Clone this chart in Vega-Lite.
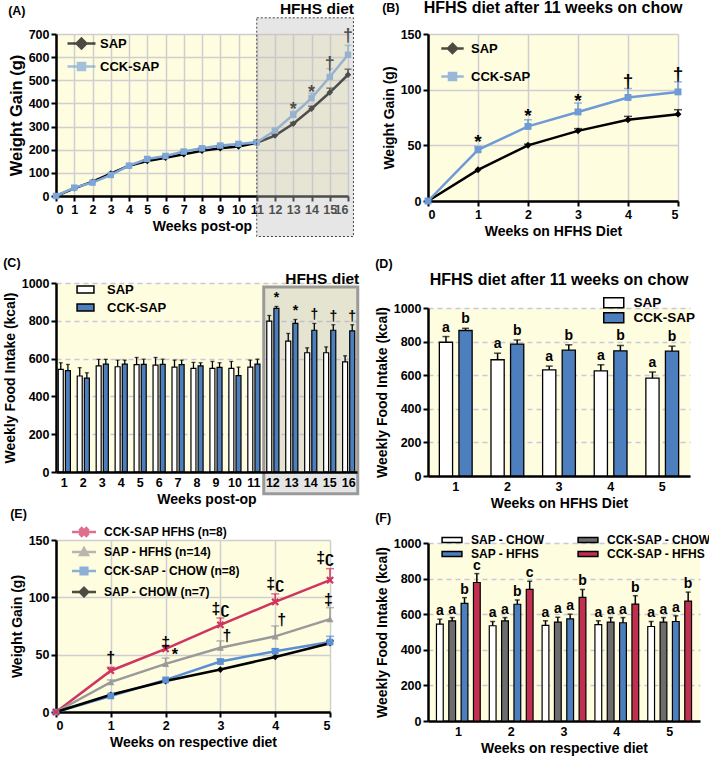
{
"$schema":"https://vega.github.io/schema/vega-lite/v6.json",
"padding":{"left":3,"top":0,"right":0,"bottom":0},
"background":"white",
"config":{
 "font":"Liberation Sans",
 "view":{"stroke":null,"fill":"#fffde0"},
 "axis":{"labelFont":"Liberation Sans","labelFontSize":12.5,"labelFontWeight":"bold","labelColor":"#000","titleFont":"Liberation Sans","titleFontSize":14,"titleFontWeight":"bold","titleColor":"#000","domainColor":"#000","domainWidth":2.5,"tickColor":"#000","tickWidth":2,"tickSize":5,"gridColor":"#cfcfcf","gridWidth":1.5,"labelPadding":2,"titlePadding":4,"labelOverlap":false},
 "axisX":{"labelAngle":0},
 "legend":{"labelFont":"Liberation Sans","labelFontWeight":"bold","labelColor":"#000","orient":"none"},
 "title":{"font":"Liberation Sans","fontWeight":"bold","color":"#000"},
 "text":{"font":"Liberation Sans","fontWeight":"bold"}
},
"datasets":{
 "a":[
  {"week":0,"group":"SAP","value":0},{"week":1,"group":"SAP","value":33},{"week":2,"group":"SAP","value":62},{"week":3,"group":"SAP","value":97},{"week":4,"group":"SAP","value":131},
  {"week":5,"group":"SAP","value":151,"err":157},{"week":6,"group":"SAP","value":165,"err":172},{"week":7,"group":"SAP","value":180,"err":188},{"week":8,"group":"SAP","value":195,"err":205},{"week":9,"group":"SAP","value":206,"err":215},{"week":10,"group":"SAP","value":214,"err":222},{"week":11,"group":"SAP","value":230,"err":236},{"week":12,"group":"SAP","value":261,"err":267},{"week":13,"group":"SAP","value":312,"err":318},{"week":14,"group":"SAP","value":377,"err":388},{"week":15,"group":"SAP","value":447,"err":466},{"week":16,"group":"SAP","value":524,"err":548},
  {"week":0,"group":"CCK-SAP","value":0},{"week":1,"group":"CCK-SAP","value":36},{"week":2,"group":"CCK-SAP","value":58},{"week":3,"group":"CCK-SAP","value":91},{"week":4,"group":"CCK-SAP","value":131},
  {"week":5,"group":"CCK-SAP","value":160,"err":166},{"week":6,"group":"CCK-SAP","value":173,"err":180},{"week":7,"group":"CCK-SAP","value":192,"err":199},{"week":8,"group":"CCK-SAP","value":206,"err":214},{"week":9,"group":"CCK-SAP","value":218,"err":226},{"week":10,"group":"CCK-SAP","value":225,"err":233},{"week":11,"group":"CCK-SAP","value":232,"err":238},{"week":12,"group":"CCK-SAP","value":283,"err":290},{"week":13,"group":"CCK-SAP","value":351,"err":365},{"week":14,"group":"CCK-SAP","value":423,"err":444},{"week":15,"group":"CCK-SAP","value":514,"err":550},{"week":16,"group":"CCK-SAP","value":610,"err":651}
 ],
 "sigA":[{"x":13,"y":372,"label":"*"},{"x":14,"y":447,"label":"*"},{"x":15,"y":572,"label":"†"},{"x":16,"y":690,"label":"†"}],
 "boxA":[{"x1":11,"x2":16.3,"y1":-175,"y2":770}],
 "b":[
  {"week":0,"group":"SAP","value":0},{"week":1,"group":"SAP","value":28},{"week":2,"group":"SAP","value":50,"err":51},{"week":3,"group":"SAP","value":63,"err":65},{"week":4,"group":"SAP","value":73,"err":76},{"week":5,"group":"SAP","value":78,"err":82},
  {"week":0,"group":"CCK-SAP","value":0},{"week":1,"group":"CCK-SAP","value":46,"err":49},{"week":2,"group":"CCK-SAP","value":67,"err":73},{"week":3,"group":"CCK-SAP","value":80,"err":88},{"week":4,"group":"CCK-SAP","value":93,"err":101},{"week":5,"group":"CCK-SAP","value":98,"err":107}
 ],
 "sigB":[{"x":1,"y":53,"label":"*"},{"x":2,"y":76,"label":"*"},{"x":3,"y":90,"label":"*"},{"x":4,"y":108,"label":"†"},{"x":5,"y":114,"label":"†"}],
 "c":[
  {"week":1,"group":"SAP","value":543,"err":578},{"week":2,"group":"SAP","value":508,"err":552},{"week":3,"group":"SAP","value":561,"err":596},{"week":4,"group":"SAP","value":557,"err":592},{"week":5,"group":"SAP","value":568,"err":606},{"week":6,"group":"SAP","value":566,"err":606},{"week":7,"group":"SAP","value":555,"err":592},{"week":8,"group":"SAP","value":548,"err":580},{"week":9,"group":"SAP","value":548,"err":585},{"week":10,"group":"SAP","value":548,"err":585},{"week":11,"group":"SAP","value":555,"err":592},{"week":12,"group":"SAP","value":798,"err":828},{"week":13,"group":"SAP","value":692,"err":733},{"week":14,"group":"SAP","value":631,"err":657},{"week":15,"group":"SAP","value":631,"err":662},{"week":16,"group":"SAP","value":583,"err":615},
  {"week":1,"group":"CCK-SAP","value":536,"err":569},{"week":2,"group":"CCK-SAP","value":497,"err":525},{"week":3,"group":"CCK-SAP","value":571,"err":596},{"week":4,"group":"CCK-SAP","value":571,"err":592},{"week":5,"group":"CCK-SAP","value":569,"err":597},{"week":6,"group":"CCK-SAP","value":569,"err":597},{"week":7,"group":"CCK-SAP","value":568,"err":592},{"week":8,"group":"CCK-SAP","value":561,"err":578},{"week":9,"group":"CCK-SAP","value":554,"err":578},{"week":10,"group":"CCK-SAP","value":510,"err":555},{"week":11,"group":"CCK-SAP","value":571,"err":597},{"week":12,"group":"CCK-SAP","value":866,"err":876,"sig":"*"},{"week":13,"group":"CCK-SAP","value":786,"err":807,"sig":"*"},{"week":14,"group":"CCK-SAP","value":750,"err":786,"sig":"†"},{"week":15,"group":"CCK-SAP","value":750,"err":779,"sig":"†"},{"week":16,"group":"CCK-SAP","value":747,"err":779,"sig":"†"}
 ],
 "boxC":[{"w1":12,"w2":16,"y1":-115,"y2":979}],
 "d":[
  {"week":1,"group":"SAP","value":796,"err":830,"letter":"a"},{"week":2,"group":"SAP","value":692,"err":731,"letter":"a"},{"week":3,"group":"SAP","value":632,"err":654,"letter":"a"},{"week":4,"group":"SAP","value":626,"err":662,"letter":"a"},{"week":5,"group":"SAP","value":583,"err":619,"letter":"a"},
  {"week":1,"group":"CCK-SAP","value":866,"err":879,"letter":"b"},{"week":2,"group":"CCK-SAP","value":785,"err":810,"letter":"b"},{"week":3,"group":"CCK-SAP","value":749,"err":781,"letter":"b"},{"week":4,"group":"CCK-SAP","value":745,"err":777,"letter":"b"},{"week":5,"group":"CCK-SAP","value":743,"err":773,"letter":"b"}
 ],
 "e":[
  {"week":0,"group":"CCK-SAP HFHS (n=8)","value":0},{"week":1,"group":"CCK-SAP HFHS (n=8)","value":36,"err":39},{"week":2,"group":"CCK-SAP HFHS (n=8)","value":55,"err":58},{"week":3,"group":"CCK-SAP HFHS (n=8)","value":76,"err":82},{"week":4,"group":"CCK-SAP HFHS (n=8)","value":96,"err":103},{"week":5,"group":"CCK-SAP HFHS (n=8)","value":115,"err":125},
  {"week":0,"group":"SAP - HFHS (n=14)","value":0},{"week":1,"group":"SAP - HFHS (n=14)","value":26,"err":28},{"week":2,"group":"SAP - HFHS (n=14)","value":42,"err":47},{"week":3,"group":"SAP - HFHS (n=14)","value":56,"err":62},{"week":4,"group":"SAP - HFHS (n=14)","value":66,"err":75},{"week":5,"group":"SAP - HFHS (n=14)","value":81,"err":91},
  {"week":0,"group":"CCK-SAP - CHOW (n=8)","value":0},{"week":1,"group":"CCK-SAP - CHOW (n=8)","value":14},{"week":2,"group":"CCK-SAP - CHOW (n=8)","value":28},{"week":3,"group":"CCK-SAP - CHOW (n=8)","value":44,"err":46},{"week":4,"group":"CCK-SAP - CHOW (n=8)","value":53,"err":55},{"week":5,"group":"CCK-SAP - CHOW (n=8)","value":61,"err":66},
  {"week":0,"group":"SAP - CHOW (n=7)","value":0},{"week":1,"group":"SAP - CHOW (n=7)","value":15},{"week":2,"group":"SAP - CHOW (n=7)","value":27},{"week":3,"group":"SAP - CHOW (n=7)","value":37},{"week":4,"group":"SAP - CHOW (n=7)","value":48},{"week":5,"group":"SAP - CHOW (n=7)","value":60,"err":62}
 ],
 "sigE":[{"x":1,"y":47,"label":"†"},{"x":2,"y":60,"label":"‡"},{"x":2.17,"y":50,"label":"*"},{"x":3,"y":90,"label":"‡ʗ"},{"x":3.12,"y":66,"label":"†"},{"x":4,"y":112,"label":"‡ʗ"},{"x":4.12,"y":80,"label":"†"},{"x":4.91,"y":134,"label":"‡ʗ"},{"x":4.97,"y":98,"label":"‡"}],
 "f":[
  {"week":1,"group":"SAP - CHOW","value":544,"err":572,"letter":"a"},{"week":2,"group":"SAP - CHOW","value":535,"err":559,"letter":"a"},{"week":3,"group":"SAP - CHOW","value":537,"err":563,"letter":"a"},{"week":4,"group":"SAP - CHOW","value":541,"err":563,"letter":"a"},{"week":5,"group":"SAP - CHOW","value":531,"err":559,"letter":"a"},
  {"week":1,"group":"CCK-SAP - CHOW","value":563,"err":581,"letter":"a"},{"week":2,"group":"CCK-SAP - CHOW","value":563,"err":581,"letter":"a"},{"week":3,"group":"CCK-SAP - CHOW","value":556,"err":583,"letter":"a"},{"week":4,"group":"CCK-SAP - CHOW","value":556,"err":581,"letter":"a"},{"week":5,"group":"CCK-SAP - CHOW","value":556,"err":581,"letter":"a"},
  {"week":1,"group":"SAP - HFHS","value":661,"err":693,"letter":"b"},{"week":2,"group":"SAP - HFHS","value":656,"err":680,"letter":"b"},{"week":3,"group":"SAP - HFHS","value":574,"err":600,"letter":"a"},{"week":4,"group":"SAP - HFHS","value":552,"err":581,"letter":"a"},{"week":5,"group":"SAP - HFHS","value":559,"err":591,"letter":"a"},
  {"week":1,"group":"CCK-SAP - HFHS","value":778,"err":828,"letter":"c"},{"week":2,"group":"CCK-SAP - HFHS","value":739,"err":785,"letter":"c"},{"week":3,"group":"CCK-SAP - HFHS","value":694,"err":739,"letter":"b"},{"week":4,"group":"CCK-SAP - HFHS","value":657,"err":704,"letter":"b"},{"week":5,"group":"CCK-SAP - HFHS","value":674,"err":724,"letter":"b"}
 ]
},
"align":"none",
"spacing":15,
"resolve":{"scale":{"color":"independent","shape":"independent","xOffset":"independent"},"legend":{"color":"independent","shape":"independent"}},
"hconcat":[
 {"align":"none","spacing":0,
  "resolve":{"scale":{"color":"independent","shape":"independent","xOffset":"independent"},"legend":{"color":"independent","shape":"independent"}},
  "vconcat":[
  {"align":"none","spacing":20,
   "resolve":{"scale":{"color":"independent","shape":"independent","xOffset":"independent"},"legend":{"color":"independent","shape":"independent"}},
   "vconcat":[
   {"title":{"text":"(A)","anchor":"start","fontSize":12.5,"dy":18,"offset":2},
    "resolve":{"scale":{"color":"independent","shape":"independent"},"legend":{"color":"independent","shape":"independent"}},
    "vconcat":[{
     "width":292,"height":162,
     "title":{"text":"HFHS diet","anchor":"end","fontSize":15.5,"offset":0},
     "layer":[
      {"data":{"name":"a"},"mark":{"type":"line","strokeWidth":2.5},
       "encoding":{
        "x":{"field":"week","type":"quantitative","scale":{"domain":[0,16],"nice":false},"axis":{"values":[0,1,2,3,4,5,6,7,8,9,10,11,12,13,14,15,16],"format":"d","tickCount":30,"labelOverlap":false,"title":"Weeks post-op","grid":true}},
        "y":{"field":"value","type":"quantitative","scale":{"domain":[0,700],"nice":false},"axis":{"values":[0,100,200,300,400,500,600,700],"format":"d","tickCount":30,"labelOverlap":false,"title":"Weight Gain (g)","titleFontSize":16.5,"grid":true}},
        "color":{"field":"group","type":"nominal","scale":{"domain":["SAP","CCK-SAP"],"range":["#000000","#7da7d9"]}}}},
      {"data":{"name":"a"},"transform":[{"filter":"isValid(datum.err)"}],"mark":{"type":"rule","strokeWidth":1.5},
       "encoding":{"x":{"field":"week","type":"quantitative"},"y":{"field":"value","type":"quantitative"},"y2":{"field":"err"},"color":{"field":"group","type":"nominal"}}},
      {"data":{"name":"a"},"transform":[{"filter":"isValid(datum.err)"}],"mark":{"type":"tick","orient":"horizontal","size":7,"thickness":1.5},
       "encoding":{"x":{"field":"week","type":"quantitative"},"y":{"field":"err","type":"quantitative"},"color":{"field":"group","type":"nominal"}}},
      {"data":{"name":"a"},"transform":[{"filter":"datum.group === 'SAP'"}],"mark":{"type":"point","filled":true,"opacity":1,"size":42,"shape":"diamond"},
       "encoding":{"x":{"field":"week","type":"quantitative"},"y":{"field":"value","type":"quantitative"},"color":{"field":"group","type":"nominal"}}},
      {"data":{"name":"a"},"transform":[{"filter":"datum.group === 'CCK-SAP'"}],"mark":{"type":"point","filled":true,"opacity":1,"size":42,"shape":"square"},
       "encoding":{"x":{"field":"week","type":"quantitative"},"y":{"field":"value","type":"quantitative"},"color":{"field":"group","type":"nominal"}}},
      {"data":{"name":"a"},"transform":[{"filter":"false"}],"mark":{"type":"point","filled":true,"opacity":1},
       "encoding":{"x":{"field":"week","type":"quantitative"},"y":{"field":"value","type":"quantitative"},"color":{"field":"group","type":"nominal"},
        "shape":{"field":"group","type":"nominal","scale":{"domain":["SAP","CCK-SAP"],"range":["M-4,0H4M0,-1.4L1.4,0L0,1.4L-1.4,0Z","M-4,0H4M-1,-1H1V1H-1Z"]},
         "legend":{"title":null,"orient":"none","legendX":19,"legendY":3,"symbolSize":49,"symbolStrokeWidth":2.5,"symbolOpacity":1,"labelOffset":12,"labelFontSize":13,"rowPadding":4}}}},
      {"data":{"name":"sigA"},"mark":{"type":"text","fontSize":18,"baseline":"middle","color":"#000"},
       "encoding":{"x":{"field":"x","type":"quantitative"},"y":{"field":"y","type":"quantitative"},"text":{"field":"label"}}},
      {"data":{"name":"boxA"},"mark":{"type":"rect","fill":"#c0c0c0","fillOpacity":0.4,"stroke":"#444444","strokeDash":[2,2],"strokeWidth":1},
       "encoding":{"x":{"field":"x1","type":"quantitative"},"x2":{"field":"x2"},"y":{"field":"y1","type":"quantitative"},"y2":{"field":"y2"}}}
     ]}]},
   {"title":{"text":"(C)","anchor":"start","fontSize":12.5,"offset":2},
    "resolve":{"scale":{"color":"independent","xOffset":"independent"},"legend":{"color":"independent"}},
    "vconcat":[{
     "width":301,"height":189,
     "title":{"text":"HFHS diet","anchor":"end","fontSize":15.5,"offset":-10},
     "layer":[
      {"data":{"name":"boxC"},"mark":{"type":"rect","fill":"#b4b4b4","fillOpacity":0.35,"stroke":"#9a9a9a","strokeWidth":3},
       "encoding":{"x":{"field":"w1","type":"ordinal","bandPosition":-0.25},"x2":{"field":"w2","bandPosition":1.25},"y":{"field":"y1","type":"quantitative"},"y2":{"field":"y2"}}},
      {"data":{"name":"c"},"mark":{"type":"bar","stroke":"#000000","strokeWidth":1.2},
       "encoding":{
        "x":{"field":"week","type":"ordinal","scale":{"paddingInner":0.36,"paddingOuter":0.12},"axis":{"title":"Weeks post-op","ticks":false,"labelPadding":4}},
        "xOffset":{"field":"group","type":"nominal","scale":{"domain":["SAP","CCK-SAP"],"paddingInner":0.3}},
        "y":{"field":"value","type":"quantitative","scale":{"domain":[0,1000],"nice":false},"axis":{"values":[0,200,400,600,800,1000],"format":"d","tickCount":30,"labelOverlap":false,"title":"Weekly Food Intake (kcal)","grid":true,"gridDash":[5,4],"gridColor":"#c8c8d8"}},
        "color":{"field":"group","type":"nominal","scale":{"domain":["SAP","CCK-SAP"],"range":["#ffffff","#4d7fbf"]},
         "legend":{"title":null,"orient":"none","legendX":23,"legendY":0,"symbolType":"M-1.8,-0.75H1.8V0.75H-1.8Z","symbolSize":88,"labelOffset":15,"labelFontSize":13,"rowPadding":3,
          "encode":{"symbols":{"stroke":{"value":"#000000"},"strokeWidth":{"value":1.3},"opacity":{"value":1}}}}}}},
      {"data":{"name":"c"},"mark":{"type":"rule","strokeWidth":1.3,"color":"#000000"},
       "encoding":{"x":{"field":"week","type":"ordinal"},"xOffset":{"field":"group","type":"nominal"},"y":{"field":"value","type":"quantitative"},"y2":{"field":"err"}}},
      {"data":{"name":"c"},"mark":{"type":"tick","orient":"horizontal","size":4,"thickness":1.3,"color":"#000000"},
       "encoding":{"x":{"field":"week","type":"ordinal"},"xOffset":{"field":"group","type":"nominal"},"y":{"field":"err","type":"quantitative"}}},
      {"data":{"name":"c"},"transform":[{"filter":"isValid(datum.sig)"}],"mark":{"type":"text","fontSize":14,"baseline":"bottom","dy":-1,"color":"#000"},
       "encoding":{"x":{"field":"week","type":"ordinal"},"xOffset":{"field":"group","type":"nominal"},"y":{"field":"err","type":"quantitative"},"text":{"field":"sig"}}}
     ]}]}
  ]},
  {"title":{"text":"(E)","anchor":"start","fontSize":12.5,"offset":6},
   "width":274,"height":172,
   "layer":[
    {"data":{"name":"e"},"mark":{"type":"line","strokeWidth":2.5},
     "encoding":{
      "x":{"field":"week","type":"quantitative","scale":{"domain":[0,5],"nice":false},"axis":{"values":[0,1,2,3,4,5],"format":"d","tickCount":30,"labelOverlap":false,"title":"Weeks on respective diet","grid":true}},
      "y":{"field":"value","type":"quantitative","scale":{"domain":[0,150],"nice":false},"axis":{"values":[0,50,100,150],"format":"d","tickCount":30,"labelOverlap":false,"title":"Weight Gain (g)","grid":true}},
      "color":{"field":"group","type":"nominal","scale":{"domain":["CCK-SAP HFHS (n=8)","SAP - HFHS (n=14)","CCK-SAP - CHOW (n=8)","SAP - CHOW (n=7)"],"range":["#d03560","#9a9a9a","#5b8fd4","#000000"]}}}},
    {"data":{"name":"e"},"transform":[{"filter":"isValid(datum.err)"}],"mark":{"type":"rule","strokeWidth":1.5},
     "encoding":{"x":{"field":"week","type":"quantitative"},"y":{"field":"value","type":"quantitative"},"y2":{"field":"err"},"color":{"field":"group","type":"nominal"}}},
    {"data":{"name":"e"},"transform":[{"filter":"isValid(datum.err)"}],"mark":{"type":"tick","orient":"horizontal","size":8,"thickness":1.5},
     "encoding":{"x":{"field":"week","type":"quantitative"},"y":{"field":"err","type":"quantitative"},"color":{"field":"group","type":"nominal"}}},
    {"data":{"name":"e"},"transform":[{"filter":"datum.group === 'SAP - CHOW (n=7)'"}],"mark":{"type":"point","filled":true,"opacity":1,"size":45,"shape":"diamond"},
     "encoding":{"x":{"field":"week","type":"quantitative"},"y":{"field":"value","type":"quantitative"},"color":{"field":"group","type":"nominal"}}},
    {"data":{"name":"e"},"transform":[{"filter":"datum.group === 'CCK-SAP - CHOW (n=8)'"}],"mark":{"type":"point","filled":true,"opacity":1,"size":45,"shape":"square"},
     "encoding":{"x":{"field":"week","type":"quantitative"},"y":{"field":"value","type":"quantitative"},"color":{"field":"group","type":"nominal"}}},
    {"data":{"name":"e"},"transform":[{"filter":"datum.group === 'SAP - HFHS (n=14)'"}],"mark":{"type":"point","filled":true,"opacity":1,"size":50,"shape":"triangle-up"},
     "encoding":{"x":{"field":"week","type":"quantitative"},"y":{"field":"value","type":"quantitative"},"color":{"field":"group","type":"nominal"}}},
    {"data":{"name":"e"},"transform":[{"filter":"datum.group === 'CCK-SAP HFHS (n=8)'"}],"mark":{"type":"point","filled":true,"opacity":1,"size":60,"shape":"M-1,-0.6L-0.6,-1L0,-0.4L0.6,-1L1,-0.6L0.4,0L1,0.6L0.6,1L0,0.4L-0.6,1L-1,0.6L-0.4,0Z"},
     "encoding":{"x":{"field":"week","type":"quantitative"},"y":{"field":"value","type":"quantitative"},"color":{"field":"group","type":"nominal"}}},
    {"data":{"name":"e"},"transform":[{"filter":"false"}],"mark":{"type":"point","filled":true,"opacity":1},
     "encoding":{"x":{"field":"week","type":"quantitative"},"y":{"field":"value","type":"quantitative"},"color":{"field":"group","type":"nominal"},
      "shape":{"field":"group","type":"nominal","scale":{"domain":["CCK-SAP HFHS (n=8)","SAP - HFHS (n=14)","CCK-SAP - CHOW (n=8)","SAP - CHOW (n=7)"],"range":["M-4,0H4M-1.3,-0.78L-0.78,-1.3L0,-0.52L0.78,-1.3L1.3,-0.78L0.52,0L1.3,0.78L0.78,1.3L0,0.52L-0.78,1.3L-1.3,0.78L-0.52,0Z","M-4,0H4M0,-1.3L1.3,1H-1.3Z","M-4,0H4M-1.1,-1.1H1.1V1.1H-1.1Z","M-4,0H4M0,-1.4L1.4,0L0,1.4L-1.4,0Z"]},
       "legend":{"title":null,"orient":"none","legendX":22,"legendY":-14,"symbolSize":36,"symbolStrokeWidth":2.5,"symbolOpacity":1,"labelOffset":14,"labelFontSize":12,"rowPadding":2}}}},
    {"data":{"name":"sigE"},"mark":{"type":"text","fontSize":16,"baseline":"middle","color":"#000"},
     "encoding":{"x":{"field":"x","type":"quantitative"},"y":{"field":"y","type":"quantitative"},"text":{"field":"label"}}}
   ]}
 ]},
 {"align":"none","spacing":0,
  "resolve":{"scale":{"color":"independent","shape":"independent","xOffset":"independent"},"legend":{"color":"independent","shape":"independent"}},
  "vconcat":[
  {"align":"none","spacing":18,
   "resolve":{"scale":{"color":"independent","shape":"independent","xOffset":"independent"},"legend":{"color":"independent","shape":"independent"}},
   "vconcat":[
   {"title":{"text":"(B)","anchor":"start","fontSize":12.5,"dy":16,"offset":2},
    "resolve":{"scale":{"color":"independent","shape":"independent"},"legend":{"color":"independent","shape":"independent"}},
    "vconcat":[{
     "width":250,"height":167,
     "title":{"text":"HFHS diet after 11 weeks on chow","anchor":"middle","fontSize":16,"offset":12},
     "layer":[
      {"data":{"name":"b"},"mark":{"type":"line","strokeWidth":2.5},
       "encoding":{
        "x":{"field":"week","type":"quantitative","scale":{"domain":[0,5],"nice":false},"axis":{"values":[0,1,2,3,4,5],"format":"d","tickCount":30,"labelOverlap":false,"title":"Weeks on HFHS Diet","grid":true}},
        "y":{"field":"value","type":"quantitative","scale":{"domain":[0,150],"nice":false},"axis":{"values":[0,50,100,150],"format":"d","tickCount":30,"labelOverlap":false,"title":"Weight Gain (g)","grid":true}},
        "color":{"field":"group","type":"nominal","scale":{"domain":["SAP","CCK-SAP"],"range":["#000000","#6e9ad6"]}}}},
      {"data":{"name":"b"},"transform":[{"filter":"isValid(datum.err)"}],"mark":{"type":"rule","strokeWidth":1.5},
       "encoding":{"x":{"field":"week","type":"quantitative"},"y":{"field":"value","type":"quantitative"},"y2":{"field":"err"},"color":{"field":"group","type":"nominal"}}},
      {"data":{"name":"b"},"transform":[{"filter":"isValid(datum.err)"}],"mark":{"type":"tick","orient":"horizontal","size":8,"thickness":1.5},
       "encoding":{"x":{"field":"week","type":"quantitative"},"y":{"field":"err","type":"quantitative"},"color":{"field":"group","type":"nominal"}}},
      {"data":{"name":"b"},"transform":[{"filter":"datum.group === 'SAP'"}],"mark":{"type":"point","filled":true,"opacity":1,"size":48,"shape":"diamond"},
       "encoding":{"x":{"field":"week","type":"quantitative"},"y":{"field":"value","type":"quantitative"},"color":{"field":"group","type":"nominal"}}},
      {"data":{"name":"b"},"transform":[{"filter":"datum.group === 'CCK-SAP'"}],"mark":{"type":"point","filled":true,"opacity":1,"size":48,"shape":"square"},
       "encoding":{"x":{"field":"week","type":"quantitative"},"y":{"field":"value","type":"quantitative"},"color":{"field":"group","type":"nominal"}}},
      {"data":{"name":"b"},"transform":[{"filter":"false"}],"mark":{"type":"point","filled":true,"opacity":1},
       "encoding":{"x":{"field":"week","type":"quantitative"},"y":{"field":"value","type":"quantitative"},"color":{"field":"group","type":"nominal"},
        "shape":{"field":"group","type":"nominal","scale":{"domain":["SAP","CCK-SAP"],"range":["M-3.2,0H3.2M0,-1.3L1.3,0L0,1.3L-1.3,0Z","M-3.2,0H3.2M-1,-1H1V1H-1Z"]},
         "legend":{"title":null,"orient":"none","legendX":18,"legendY":8,"symbolSize":49,"symbolStrokeWidth":2.5,"symbolOpacity":1,"labelOffset":12,"labelFontSize":13,"rowPadding":9}}}},
      {"data":{"name":"sigB"},"mark":{"type":"text","fontSize":19,"baseline":"middle","color":"#000"},
       "encoding":{"x":{"field":"x","type":"quantitative"},"y":{"field":"y","type":"quantitative"},"text":{"field":"label"}}}
     ]}]},
   {"title":{"text":"(D)","anchor":"start","fontSize":12.5,"offset":2},
    "resolve":{"scale":{"color":"independent","xOffset":"independent"},"legend":{"color":"independent"}},
    "vconcat":[{
     "width":262,"height":168,
     "title":{"text":"HFHS diet after 11 weeks on chow","anchor":"middle","fontSize":16,"offset":8},
     "layer":[
      {"data":{"name":"d"},"mark":{"type":"bar","stroke":"#000000","strokeWidth":1.3},
       "encoding":{
        "x":{"field":"week","type":"ordinal","scale":{"paddingInner":0.365,"paddingOuter":0.22},"axis":{"title":"Weeks on HFHS Diet","ticks":false,"labelPadding":4}},
        "xOffset":{"field":"group","type":"nominal","scale":{"domain":["SAP","CCK-SAP"],"paddingInner":0.325}},
        "y":{"field":"value","type":"quantitative","scale":{"domain":[0,1000],"nice":false},"axis":{"values":[0,200,400,600,800,1000],"format":"d","tickCount":30,"labelOverlap":false,"title":"Weekly Food Intake (kcal)","grid":true,"gridDash":[5,4],"gridColor":"#c8c8d8"}},
        "color":{"field":"group","type":"nominal","scale":{"domain":["SAP","CCK-SAP"],"range":["#ffffff","#4d7fbf"]},
         "legend":{"title":null,"orient":"none","legendX":179,"legendY":-12,"symbolType":"M-2,-1H2V1H-2Z","symbolSize":100,"labelOffset":13,"labelFontSize":13.5,"rowPadding":-4,
          "encode":{"symbols":{"stroke":{"value":"#000000"},"strokeWidth":{"value":1.3},"opacity":{"value":1}}}}}}},
      {"data":{"name":"d"},"mark":{"type":"rule","strokeWidth":1.5,"color":"#000000"},
       "encoding":{"x":{"field":"week","type":"ordinal"},"xOffset":{"field":"group","type":"nominal"},"y":{"field":"value","type":"quantitative"},"y2":{"field":"err"}}},
      {"data":{"name":"d"},"mark":{"type":"tick","orient":"horizontal","size":7,"thickness":1.5,"color":"#000000"},
       "encoding":{"x":{"field":"week","type":"ordinal"},"xOffset":{"field":"group","type":"nominal"},"y":{"field":"err","type":"quantitative"}}},
      {"data":{"name":"d"},"mark":{"type":"text","fontSize":14,"baseline":"bottom","dy":-2,"color":"#000"},
       "encoding":{"x":{"field":"week","type":"ordinal"},"xOffset":{"field":"group","type":"nominal"},"y":{"field":"err","type":"quantitative"},"text":{"field":"letter"}}}
     ]}]}
  ]},
  {"title":{"text":"(F)","anchor":"start","fontSize":12.5,"offset":10},
   "width":272,"height":178,
   "layer":[
    {"data":{"name":"f"},"mark":{"type":"bar","stroke":"#000000","strokeWidth":1.2},
     "encoding":{
      "x":{"field":"week","type":"ordinal","scale":{"paddingInner":0.171,"paddingOuter":0.16},"axis":{"title":"Weeks on respective diet","ticks":false,"labelPadding":4}},
      "xOffset":{"field":"group","type":"nominal","scale":{"domain":["SAP - CHOW","CCK-SAP - CHOW","SAP - HFHS","CCK-SAP - HFHS"],"paddingInner":0.45}},
      "y":{"field":"value","type":"quantitative","scale":{"domain":[0,1000],"nice":false},"axis":{"values":[0,200,400,600,800,1000],"format":"d","tickCount":30,"labelOverlap":false,"title":"Weekly Food Intake (kcal)","grid":true,"gridDash":[5,4],"gridColor":"#c8c8d8"}},
      "color":{"field":"group","type":"nominal","scale":{"domain":["SAP - CHOW","SAP - HFHS","CCK-SAP - CHOW","CCK-SAP - HFHS"],"range":["#ffffff","#4d7fbf","#6d6d6d","#c2304f"]},
       "legend":{"title":null,"orient":"none","legendX":18,"legendY":-9,"columns":2,"columnPadding":30,"symbolType":"M-3.3,-0.8H3.3V0.8H-3.3Z","symbolSize":36,"labelOffset":13,"labelFontSize":12,"rowPadding":2,
        "encode":{"symbols":{"stroke":{"value":"#000000"},"strokeWidth":{"value":1.3},"opacity":{"value":1}}}}}}},
    {"data":{"name":"f"},"mark":{"type":"rule","strokeWidth":1.5,"color":"#000000"},
     "encoding":{"x":{"field":"week","type":"ordinal"},"xOffset":{"field":"group","type":"nominal"},"y":{"field":"value","type":"quantitative"},"y2":{"field":"err"}}},
    {"data":{"name":"f"},"mark":{"type":"tick","orient":"horizontal","size":5,"thickness":1.5,"color":"#000000"},
     "encoding":{"x":{"field":"week","type":"ordinal"},"xOffset":{"field":"group","type":"nominal"},"y":{"field":"err","type":"quantitative"}}},
    {"data":{"name":"f"},"mark":{"type":"text","fontSize":14,"baseline":"bottom","dy":-1,"color":"#000"},
     "encoding":{"x":{"field":"week","type":"ordinal"},"xOffset":{"field":"group","type":"nominal"},"y":{"field":"err","type":"quantitative"},"text":{"field":"letter"}}}
   ]}
 ]}
]
}
